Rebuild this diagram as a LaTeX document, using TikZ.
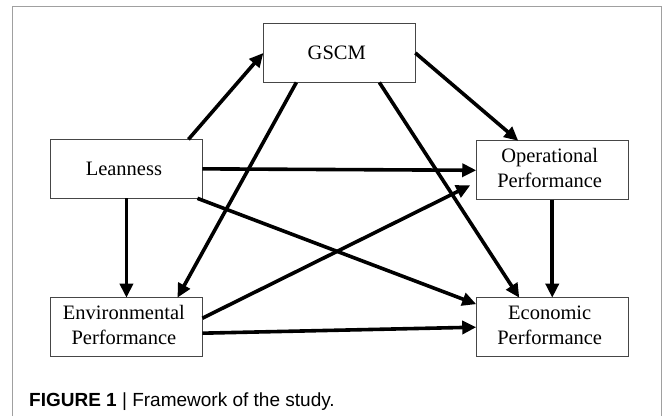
\documentclass[tikz,border=0pt]{standalone}
\usepackage{fontspec}
\setmainfont{Liberation Serif}
\newfontfamily\capfont{Liberation Sans}
\usepackage{tikz}
\usetikzlibrary{arrows.meta}
\usetikzlibrary{matrix}
\newcommand{\twol}[2]{\begin{tabular}{@{}c@{}}#1\\#2\end{tabular}}
\definecolor{framecol}{RGB}{160, 160, 160}
\definecolor{boxcol}{RGB}{70, 70, 70}
\tikzset{
  box/.style={draw=boxcol,line width=0.9pt,minimum width=152pt,minimum height=59pt,
    inner sep=2pt,outer sep=0pt,align=center,font=\fontsize{20.5}{25}\selectfont},
  conn/.style={line width=3.6pt,-{Triangle[length=14pt,width=13pt]}}
}
\begin{document}
\begin{tikzpicture}[x=1pt,y=-1pt]
  \useasboundingbox (0,0) rectangle (663,416);
  \draw[framecol,line width=1pt] (12.7,416) |- (661.7,6) -- (661.7,416);
  \matrix (m) [matrix of nodes,nodes={box},row sep=56pt,column sep=60pt,
    inner sep=0pt,outer sep=0pt,anchor=north west] at (50,23)
  {
     & GSCM & \\
     Leanness & & \twol{Operational}{Performance} \\[41pt]
     \twol{Environmental}{Performance} & & \twol{Economic}{Performance} \\};
  \path[conn]
    ([xshift=-14pt]m-2-1.north east) edge (m-1-2.west)
    (m-1-2.east) edge ([xshift=-34pt]m-2-3.north)
    ([xshift=-43pt]m-1-2.south) edge ([xshift=51pt]m-3-1.north)
    ([xshift=40pt]m-1-2.south) edge ([xshift=-33pt]m-3-3.north)
    (m-2-1.east) edge (m-2-3.west)
    ([xshift=-5pt]m-2-1.south east) edge ([yshift=23pt]m-3-3.west)
    (m-2-1) edge (m-3-1)
    ([yshift=9pt]m-3-1.east) edge ([xshift=-6pt,yshift=-15pt]m-2-3.west)
    ([yshift=-6pt]m-3-1.east) edge (m-3-3.west)
    (m-2-3) edge (m-3-3);
  \node (caption) [anchor=base west,inner sep=0pt,font=\capfont\fontsize{19}{21}\selectfont]
    at (29,406) {\textbf{FIGURE 1} | Framework of the study.};
\end{tikzpicture}
\end{document}
